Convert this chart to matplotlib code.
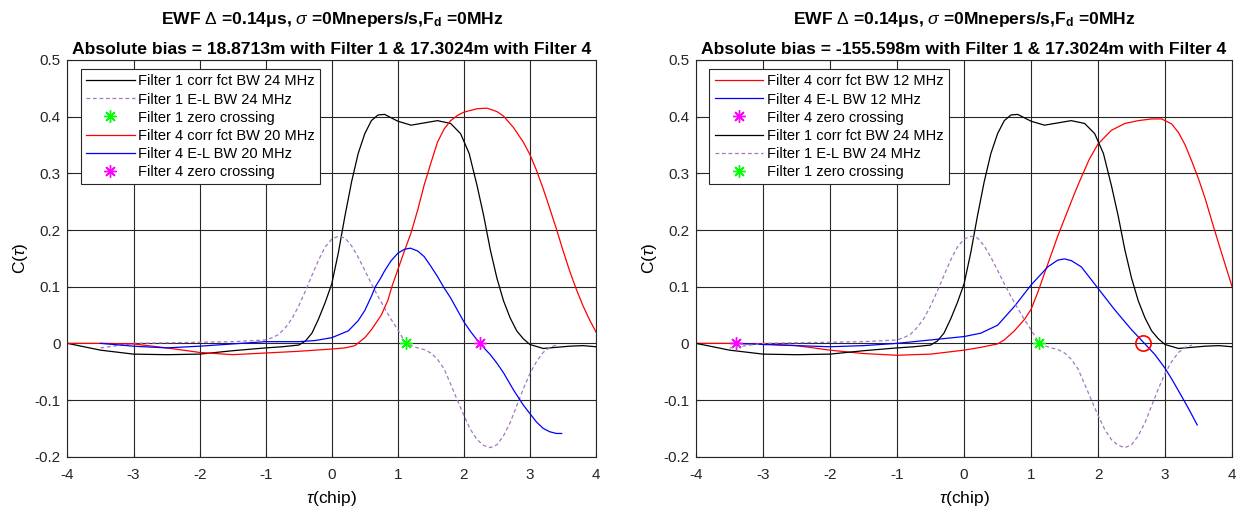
import matplotlib
matplotlib.use("Agg")
import matplotlib.pyplot as plt

plt.rcParams["font.family"] = ["Liberation Sans", "DejaVu Sans"]
plt.rcParams["mathtext.fontset"] = "custom"
plt.rcParams["mathtext.rm"] = "Liberation Sans"
plt.rcParams["mathtext.it"] = "Liberation Sans:italic"
plt.rcParams["mathtext.bf"] = "Liberation Sans:bold"

# Filter 1 (BW 24 MHz) correlation function - same in both panels
f1_corr_x = [-4, -3.5, -3, -2.5, -2, -1.5, -1, -0.75, -0.5, -0.4, -0.3, -0.2, -0.1, 0, 0.1, 0.2,
             0.3, 0.4, 0.5, 0.6, 0.7, 0.8, 0.9, 1.0, 1.2, 1.4, 1.6, 1.8, 1.95, 2.08, 2.2, 2.3,
             2.4, 2.5, 2.6, 2.7, 2.8, 2.9, 3.0, 3.2, 3.4, 3.6, 3.8, 4.0]
f1_corr_y = [0, -0.012, -0.019, -0.020, -0.019, -0.013, -0.008, -0.006, -0.003, 0.004, 0.018,
             0.043, 0.072, 0.105, 0.16, 0.225, 0.285, 0.335, 0.37, 0.393, 0.403, 0.404, 0.398,
             0.392, 0.385, 0.389, 0.393, 0.388, 0.37, 0.335, 0.278, 0.225, 0.165, 0.115, 0.075,
             0.045, 0.022, 0.008, -0.002, -0.009, -0.007, -0.005, -0.004, -0.006]

# Filter 1 (BW 24 MHz) early-late discriminator
f1_el_x = [-3.5, -3.25, -3, -2.5, -2, -1.5, -1, -0.9, -0.8, -0.7, -0.6, -0.5, -0.4, -0.3, -0.2,
           -0.1, 0.0, 0.1, 0.2, 0.3, 0.4, 0.5, 0.6, 0.7, 0.8, 0.9, 1.0, 1.1, 1.2, 1.3, 1.4, 1.5,
           1.6, 1.7, 1.8, 1.9, 2.0, 2.1, 2.2, 2.3, 2.4, 2.5, 2.6, 2.7, 2.8, 2.9, 3.0, 3.1, 3.2,
           3.3, 3.4]
f1_el_y = [-0.008, -0.004, 0.0, 0.001, 0.002, 0.003, 0.006, 0.01, 0.016, 0.028, 0.044, 0.066,
           0.092, 0.12, 0.147, 0.17, 0.184, 0.189, 0.186, 0.172, 0.152, 0.129, 0.105, 0.083,
           0.062, 0.042, 0.024, 0.004, -0.004, -0.008, -0.011, -0.017, -0.028, -0.045, -0.072,
           -0.1, -0.127, -0.152, -0.17, -0.18, -0.184, -0.179, -0.163, -0.14, -0.11, -0.08,
           -0.053, -0.032, -0.016, -0.007, -0.003]
f1_zero = 1.12

# Filter 4, BW 20 MHz (left panel)
f4a_corr_x = [-4, -3.5, -3, -2.5, -2, -1.5, -1, -0.5, 0, 0.2, 0.35, 0.5, 0.6, 0.75, 0.85, 0.91,
              1.0, 1.1, 1.2, 1.3, 1.4, 1.5, 1.6, 1.7, 1.8, 1.9, 2.0, 2.2, 2.35, 2.5, 2.6, 2.75,
              2.9, 3.0, 3.1, 3.2, 3.3, 3.4, 3.5, 3.6, 3.7, 3.8, 3.9, 4.0]
f4a_corr_y = [0, 0.0, -0.001, -0.008, -0.016, -0.020, -0.017, -0.014, -0.010, -0.008, -0.004,
              0.010, 0.024, 0.05, 0.076, 0.1, 0.13, 0.163, 0.195, 0.235, 0.28, 0.318, 0.355,
              0.378, 0.393, 0.402, 0.408, 0.414, 0.415, 0.409, 0.401, 0.381, 0.355, 0.333,
              0.305, 0.273, 0.238, 0.202, 0.164, 0.128, 0.096, 0.067, 0.042, 0.02]
f4a_el_x = [-3.5, -3, -2.5, -2, -1.5, -1, -0.5, -0.25, 0, 0.25, 0.4, 0.5, 0.6, 0.66, 0.74, 0.8,
            0.9, 1.0, 1.1, 1.19, 1.3, 1.4, 1.5, 1.6, 1.7, 1.8, 1.9, 2.0, 2.1, 2.24, 2.4, 2.5,
            2.6, 2.75, 2.9, 3.0, 3.1, 3.2, 3.3, 3.4, 3.48]
f4a_el_y = [0.0, -0.005, -0.008, -0.005, -0.001, 0.003, 0.003, 0.005, 0.01, 0.022, 0.04, 0.058,
            0.083, 0.1, 0.115, 0.128, 0.146, 0.159, 0.166, 0.168, 0.163, 0.153, 0.136, 0.118,
            0.098, 0.08, 0.059, 0.038, 0.021, 0.0, -0.02, -0.035, -0.052, -0.082, -0.109,
            -0.124, -0.139, -0.150, -0.156, -0.159, -0.159]
f4a_zero = 2.24

# Filter 4, BW 12 MHz (right panel)
f4b_corr_x = [-4, -3.5, -3, -2.5, -2, -1.5, -1, -0.5, 0, 0.25, 0.5, 0.6, 0.75, 0.9, 1.0, 1.1,
              1.25, 1.4, 1.5, 1.65, 1.75, 1.87, 2.0, 2.2, 2.4, 2.6, 2.8, 2.95, 3.1, 3.2, 3.3,
              3.4, 3.5, 3.6, 3.7, 3.8, 3.9, 4.0]
f4b_corr_y = [0, 0.0, -0.001, -0.004, -0.012, -0.018, -0.021, -0.019, -0.012, -0.007, -0.001,
              0.006, 0.022, 0.042, 0.06, 0.09, 0.14, 0.19, 0.22, 0.265, 0.293, 0.325, 0.352,
              0.376, 0.388, 0.393, 0.396, 0.396, 0.387, 0.372, 0.35, 0.321, 0.29, 0.255,
              0.215, 0.176, 0.138, 0.1]
f4b_el_x = [-3.4, -3, -2.5, -2, -1.5, -1, -0.5, 0, 0.25, 0.5, 0.75, 1.0, 1.25, 1.4, 1.5, 1.6,
            1.75, 2.0, 2.25, 2.5, 2.7, 2.85, 3.0, 3.1, 3.25, 3.35, 3.48]
f4b_el_y = [0.0, -0.002, -0.004, -0.006, -0.004, 0.0, 0.006, 0.012, 0.018, 0.032, 0.065, 0.103,
            0.135, 0.147, 0.149, 0.146, 0.135, 0.097, 0.059, 0.024, -0.001, -0.02, -0.044,
            -0.063, -0.094, -0.115, -0.144]
f4b_zero = -3.4
f4b_circle = 2.67

y_ticks = [-0.2, -0.1, 0, 0.1, 0.2, 0.3, 0.4, 0.5]
y_labels = ["-0.2", "-0.1", "0", "0.1", "0.2", "0.3", "0.4", "0.5"]
x_ticks = [-4, -3, -2, -1, 0, 1, 2, 3, 4]

title1 = r"EWF $\Delta$ =0.14$\mathbf{\mu}$s, $\sigma$ =0Mnepers/s,F$_\mathbf{d}$ =0MHz"
title2_left = "Absolute bias = 18.8713m with Filter 1 & 17.3024m with Filter 4"
title2_right = "Absolute bias = -155.598m with Filter 1 & 17.3024m with Filter 4"

C_F1 = "black"
C_EL1 = "#a377c2"
C_F4 = "#ff0000"
C_EL4 = "#0000ff"
STAR = (8, 2, 0)
LW = 0.9

fig = plt.figure(figsize=(12.43, 5.15), dpi=100)
ax1 = fig.add_axes([0.0543, 0.1132, 0.4252, 0.7703])
ax2 = fig.add_axes([0.5600, 0.1132, 0.4312, 0.7703])


def star(ax, x, color, label):
    ax.plot([x], [0], linestyle="none", marker=STAR, markersize=9,
            markeredgecolor=color, markerfacecolor=color, markeredgewidth=1.0, label=label)


# left panel
ax1.plot(f1_corr_x, f1_corr_y, color=C_F1, lw=LW, label="Filter 1 corr fct BW 24 MHz")
ax1.plot(f1_el_x, f1_el_y, color=C_EL1, lw=LW, dashes=(3, 2.2), label="Filter 1 E-L BW 24 MHz")
star(ax1, f1_zero, "#00ff00", "Filter 1 zero crossing")
ax1.plot(f4a_corr_x, f4a_corr_y, color=C_F4, lw=LW, label="Filter 4 corr fct BW 20 MHz")
ax1.plot(f4a_el_x, f4a_el_y, color=C_EL4, lw=LW, label="Filter 4 E-L BW 20 MHz")
star(ax1, f4a_zero, "#ff00ff", "Filter 4 zero crossing")

# right panel
ax2.plot(f4b_corr_x, f4b_corr_y, color=C_F4, lw=LW, label="Filter 4 corr fct BW 12 MHz")
ax2.plot(f4b_el_x, f4b_el_y, color=C_EL4, lw=LW, label="Filter 4 E-L BW 12 MHz")
star(ax2, f4b_zero, "#ff00ff", "Filter 4 zero crossing")
ax2.plot(f1_corr_x, f1_corr_y, color=C_F1, lw=LW, label="Filter 1 corr fct BW 24 MHz")
ax2.plot(f1_el_x, f1_el_y, color=C_EL1, lw=LW, dashes=(3, 2.2), label="Filter 1 E-L BW 24 MHz")
star(ax2, f1_zero, "#00ff00", "Filter 1 zero crossing")
ax2.plot([f4b_circle], [0], linestyle="none", marker="o", markersize=11,
         markerfacecolor="none", markeredgecolor=C_F4, markeredgewidth=1.2)

for ax, t2 in ((ax1, title2_left), (ax2, title2_right)):
    ax.set_xlim(-4, 4)
    ax.set_ylim(-0.2, 0.5)
    ax.set_xticks(x_ticks)
    ax.set_xticklabels([str(v) for v in x_ticks])
    ax.set_yticks(y_ticks)
    ax.set_yticklabels(y_labels)
    ax.tick_params(direction="in", length=3, labelsize=11, colors="#262626")
    ax.tick_params(axis="x", pad=8)
    ax.tick_params(axis="y", pad=5)
    ax.grid(True, color="#262626", linewidth=0.8)
    ax.set_axisbelow(True)
    for s in ax.spines.values():
        s.set_color("#262626")
        s.set_linewidth(0.8)
    ax.set_xlabel(r"$\tau$(chip)", fontsize=12.5, labelpad=5)
    ax.set_ylabel(r"C($\tau$)", fontsize=12.5, labelpad=3)
    ax.text(0.5, 1.092, title1, transform=ax.transAxes, ha="center", va="baseline",
            fontsize=12.6, fontweight="bold")
    ax.text(0.5, 1.016, t2, transform=ax.transAxes, ha="center", va="baseline",
            fontsize=12.6, fontweight="bold")
    leg = ax.legend(loc="upper left", bbox_to_anchor=(0.025, 0.9765), borderaxespad=0,
                    fontsize=10.5, handlelength=3.35, labelspacing=0.28, fancybox=False,
                    framealpha=1, borderpad=0.35, handletextpad=0.25)
    leg.get_frame().set_edgecolor("#262626")
    leg.get_frame().set_linewidth(0.8)

fig.savefig("out.png", dpi=100)
